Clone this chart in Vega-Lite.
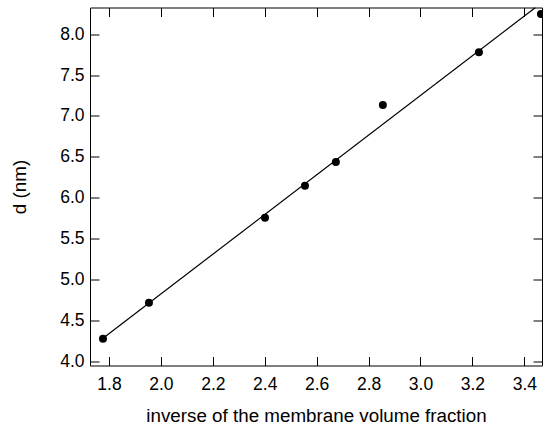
{
  "$schema": "https://vega.github.io/schema/vega-lite/v6.json",
  "autosize": "none",
  "width": 452,
  "height": 358,
  "padding": {"left": 90, "top": 7.5, "right": 1, "bottom": 59.5},
  "background": "white",
  "config": {
    "view": {"stroke": null},
    "font": "Liberation Sans",
    "axis": {
      "domainColor": "black",
      "domainWidth": 1,
      "tickColor": "black",
      "tickWidth": 1,
      "tickSize": -9,
      "grid": false,
      "labelFont": "Liberation Sans",
      "labelFontSize": 17.5,
      "labelColor": "black",
      "titleFont": "Liberation Sans",
      "titleFontSize": 18.8,
      "titleFontWeight": "normal",
      "titleColor": "black"
    }
  },
  "datasets": {
    "pts": [
      {"x": 1.777, "d": 4.273},
      {"x": 1.954, "d": 4.713},
      {"x": 2.401, "d": 5.753},
      {"x": 2.555, "d": 6.145},
      {"x": 2.674, "d": 6.438},
      {"x": 2.855, "d": 7.135},
      {"x": 3.225, "d": 7.78},
      {"x": 3.464, "d": 8.248}
    ],
    "fit": [
      {"x": 1.777, "d": 4.28},
      {"x": 3.443, "d": 8.328}
    ]
  },
  "resolve": {"axis": {"x": "independent", "y": "independent"}},
  "layer": [
    {
      "data": {"name": "fit"},
      "mark": {"type": "line", "color": "black", "strokeWidth": 1.2, "clip": true},
      "encoding": {
        "x": {"field": "x", "type": "quantitative",
              "scale": {"domain": [1.727, 3.468], "nice": false, "zero": false},
              "axis": {"orient": "bottom", "values": [1.8, 2.0, 2.2, 2.4, 2.6, 2.8, 3.0, 3.2, 3.4], "format": ".1f", "labelPadding": 19, "title": "inverse of the membrane volume fraction", "titlePadding": 13}},
        "y": {"field": "d", "type": "quantitative",
              "scale": {"domain": [3.946, 8.328], "nice": false, "zero": false},
              "axis": {"orient": "left", "values": [4.0, 4.5, 5.0, 5.5, 6.0, 6.5, 7.0, 7.5, 8.0], "format": ".1f", "labelPadding": 15, "title": "d (nm)", "titlePadding": 30}}
      }
    },
    {
      "data": {"name": "pts"},
      "mark": {"type": "point", "filled": true, "color": "black", "opacity": 1, "size": 64, "shape": "circle"},
      "encoding": {
        "x": {"field": "x", "type": "quantitative",
              "scale": {"domain": [1.727, 3.468], "nice": false, "zero": false},
              "axis": {"orient": "top", "values": [1.8, 2.0, 2.2, 2.4, 2.6, 2.8, 3.0, 3.2, 3.4], "labels": false, "title": null}},
        "y": {"field": "d", "type": "quantitative",
              "scale": {"domain": [3.946, 8.328], "nice": false, "zero": false},
              "axis": {"orient": "right", "values": [4.0, 4.5, 5.0, 5.5, 6.0, 6.5, 7.0, 7.5, 8.0], "labels": false, "title": null}}
      }
    }
  ]
}
